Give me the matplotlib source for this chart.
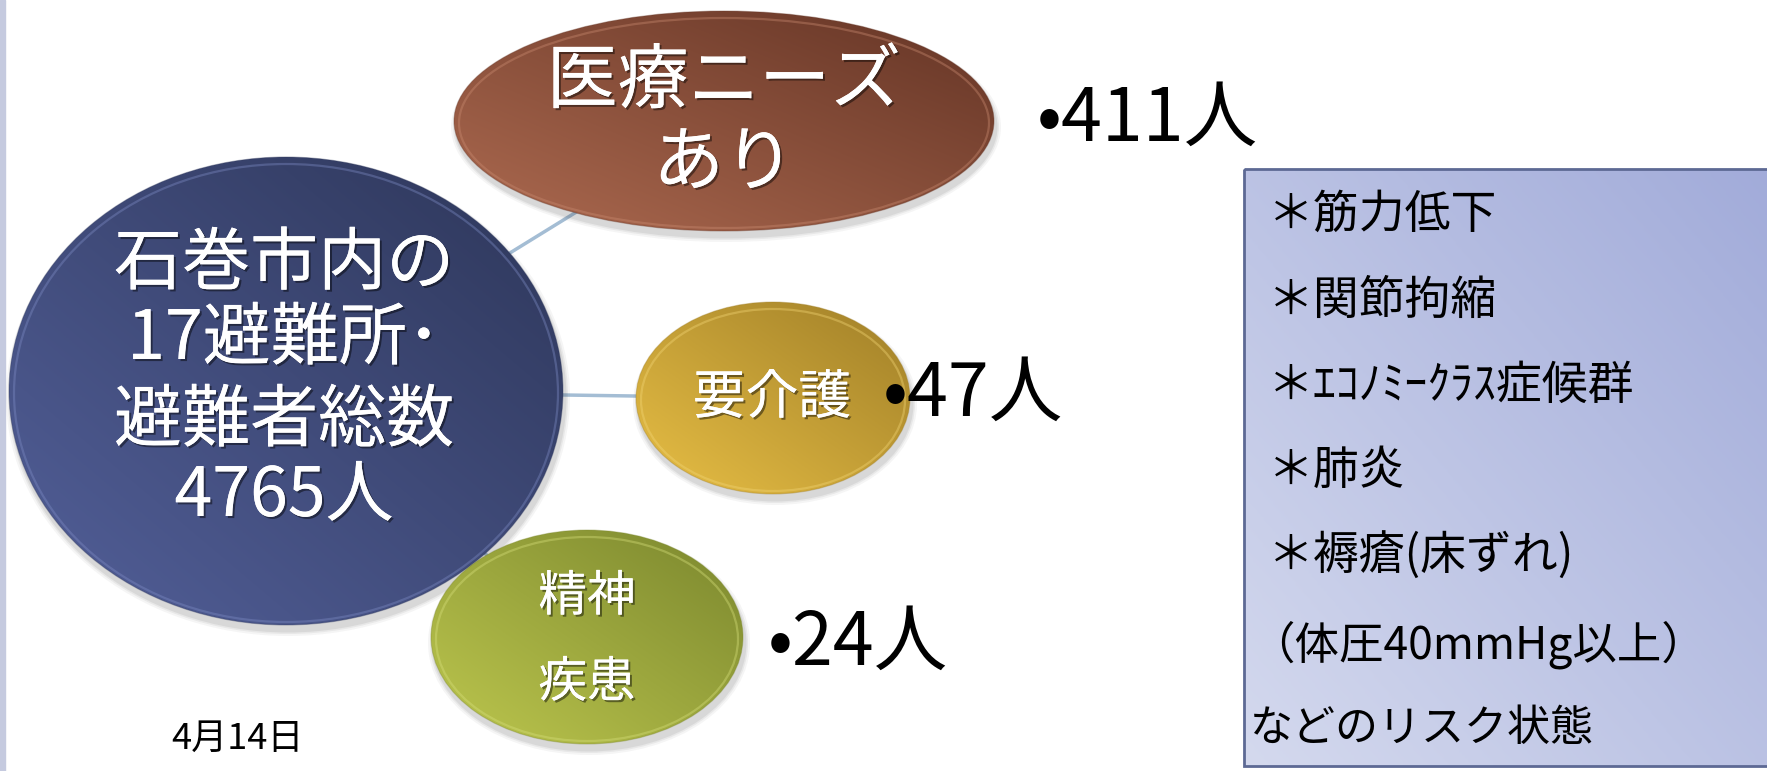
import numpy as np
import matplotlib
matplotlib.use("Agg")
import matplotlib.pyplot as plt
from matplotlib.patches import Ellipse, Rectangle
from matplotlib.colors import LinearSegmentedColormap
import matplotlib.patheffects as pe

plt.rcParams['font.family'] = ['Noto Sans CJK JP', 'DejaVu Sans']

# --- data ---
center_label = ["石巻市内の", "17避難所･", "避難者総数", "4765人"]
group_labels = [["医療ニーズ", "あり"], ["要介護"], ["精神", "疾患"]]
group_counts = ["411人", "47人", "24人"]
risk_lines = ["＊筋力低下", "＊関節拘縮", "＊ｴｺﾉﾐｰｸﾗｽ症候群", "＊肺炎",
              "＊褥瘡(床ずれ)", "（体圧40mmHg以上）", "などのリスク状態"]
date_label = "4月14日"

W, H = 1767, 771
fig = plt.figure(figsize=(W / 100, H / 100), dpi=100)
ax = fig.add_axes([0, 0, 1, 1])
ax.set_xlim(0, W)
ax.set_ylim(H, 0)
ax.axis('off')

# left strip
ax.add_patch(Rectangle((0, 0), 5, H, color='#c5cadf', zorder=1))


def grad_patch(patch, c_light, c_dark, z, angle=45):
    # linear gradient: light at lower-left, dark at upper-right
    ax.add_patch(patch)
    x0, y0, x1, y1 = patch.get_extents().transformed(ax.transData.inverted()).extents
    xs = np.linspace(0, 1, 200)
    ys = np.linspace(0, 1, 200)
    X, Y = np.meshgrid(xs, ys)
    a = np.deg2rad(angle)
    T = (X * np.cos(a) + (1 - Y) * np.sin(a)) / (np.cos(a) + np.sin(a))
    cmap = LinearSegmentedColormap.from_list('g', [c_light, c_dark])
    im = ax.imshow(T, cmap=cmap, extent=[min(x0, x1), max(x0, x1), max(y0, y1), min(y0, y1)],
                   origin='upper', aspect='auto', zorder=z, interpolation='bilinear')
    im.set_clip_path(patch)
    patch.set_zorder(z)
    return im


def bubble(cx, cy, w, h, c_light, c_dark, rim, z):
    # soft shadow
    for k, al in [(10, 0.05), (6, 0.07), (3, 0.09)]:
        ax.add_patch(Ellipse((cx + 2, cy + 6), w + k, h + k, color='#404040',
                             alpha=al, lw=0, zorder=z - 0.5))
    e = Ellipse((cx, cy), w, h, facecolor='none', edgecolor='none')
    grad_patch(e, c_light, c_dark, z)
    ax.add_patch(Ellipse((cx, cy + 2), w - 10, h - 10, facecolor='none', edgecolor=rim,
                         lw=1.6, alpha=0.4, zorder=z + 0.1))
    ax.add_patch(Ellipse((cx, cy), w, h, facecolor='none', edgecolor=c_dark,
                         lw=0.8, alpha=0.35, zorder=z + 0.1))


nodes = {
    'center': (286, 391, 554, 468),
    'med': (724, 121, 540, 220),
    'care': (773, 398, 274, 192),
    'mental': (587, 637, 312, 214),
}

# connectors
cx0, cy0 = nodes['center'][:2]
for key in ['med', 'care', 'mental']:
    x, y = nodes[key][:2]
    ax.plot([cx0, x], [cy0, y], color='#a4bdd4', lw=2.5, zorder=2)

bubble(*nodes['center'], '#53609a', '#2d3659', '#7d8bc4', 5)
bubble(*nodes['med'], '#ad6a50', '#643425', '#c98a70', 5)
bubble(*nodes['care'], '#e8bf45', '#a07f28', '#f2d574', 5)
bubble(*nodes['mental'], '#bdc74e', '#7b872e', '#d6df7a', 5)

shadow = [pe.withSimplePatchShadow(offset=(1.5, -1.5), shadow_rgbFace='black', alpha=0.45),
          pe.Normal()]

# center text
for txt, y in zip(center_label, [265, 340, 422, 497]):
    ax.text(284, y, txt, color='white', fontsize=49, ha='center', va='center',
            zorder=10, path_effects=shadow)

# group labels
lab_pos = [[(724, 82), (724, 164)], [(772, 398)], [(587, 597), (587, 683)]]
lab_size = [51, 38, 35]
for lines, poss, fs in zip(group_labels, lab_pos, lab_size):
    for txt, (x, y) in zip(lines, poss):
        ax.text(x, y, txt, color='white', fontsize=fs, ha='center', va='center',
                zorder=10, path_effects=shadow)

# counts
cnt_pos = [(1037, 120), (883, 395), (768, 644)]
for txt, (x, y) in zip(group_counts, cnt_pos):
    ax.text(x, y, '•' + txt, color='black', fontsize=53, ha='left', va='center',
            zorder=10)

# date
ax.text(171, 739, date_label, fontsize=26, ha='left', va='center', zorder=10)

# risk box
box = Rectangle((1244, 169), 600, 597, facecolor='none', edgecolor='none')
grad_patch(box, '#d4d9ee', '#9ea8d8', 3, angle=40)
ax.add_patch(Rectangle((1244, 169), 600, 597, facecolor='none', edgecolor='#5d6994',
                       lw=2.0, zorder=4))
box_y = [214, 301, 386, 471, 557, 645, 729]
box_fs = [33, 33, 33, 33, 33, 32, 31]
for txt, y, fs in zip(risk_lines, box_y, box_fs):
    x = 1268 if txt.startswith('＊') else 1250
    ax.text(x, y, txt, fontsize=fs, ha='left', va='center', color='black', zorder=10)

fig.savefig('out.png', dpi=100)
